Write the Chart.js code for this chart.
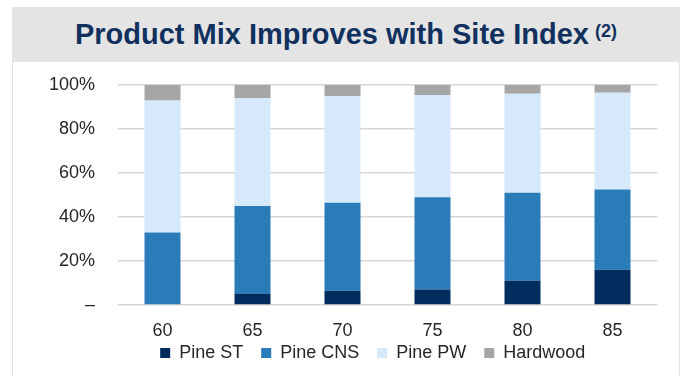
<!DOCTYPE html>
<html>
<head>
<meta charset="utf-8">
<script src="https://cdn.jsdelivr.net/npm/chart.js@4"></script>
<style>
  html, body { margin: 0; padding: 0; background: #fff; }
  #wrap { position: relative; width: 683px; height: 376px; overflow: hidden; font-family: "Liberation Sans", Arial, sans-serif; }
  #header {
    position: absolute; left: 12px; top: 7px; width: 668px; height: 55px;
    background: #e4e4e4; color: #12305e; font-weight: bold; font-size: 29px;
    text-align: center; line-height: 55px; white-space: nowrap;
  }
  #header sup { font-size: 18px; position: relative; top: 4px; vertical-align: top; line-height: 40px; margin-left: -2px; }
  #panel {
    position: absolute; left: 12px; top: 62px; width: 666px; height: 320px;
    border-left: 1px solid #e2e2e2; border-right: 1px solid #e2e2e2;
  }
  #chart { position: absolute; left: 0; top: 0; }
</style>
</head>
<body>
<div id="wrap">
  <div id="header">Product Mix Improves with Site Index <sup>(2)</sup></div>
  <div id="panel"></div>
  <canvas id="chart" width="683" height="376"></canvas>
</div>
<script>
const siteIndex = ['60', '65', '70', '75', '80', '85'];
const pineST = [0, 5, 6.5, 7, 11, 16];
const pineCNS = [33, 40, 40, 42, 40, 36.5];
const pinePW = [60, 49, 48.5, 46.5, 45, 44];
const hardwood = [7, 6, 5, 4.5, 4, 3.5];
const yTicks = [0, 20, 40, 60, 80, 100];

const tickFont = { family: 'Liberation Sans', size: 18 };

// legend sits right of the canvas centre and tucked up under the labels in the original
const legendShift = {
  id: 'legendShift',
  afterLayout(chart) {
    const lg = chart.legend;
    lg.left += 44;
    lg.right += 44;
    lg.top -= 17;
    lg.bottom -= 17;
  }
};

new Chart(document.getElementById('chart').getContext('2d'), {
  type: 'bar',
  data: {
    labels: siteIndex,
    datasets: [
      { label: 'Pine ST', data: pineST, backgroundColor: '#012d5e' },
      { label: 'Pine CNS', data: pineCNS, backgroundColor: '#2a7cb9' },
      { label: 'Pine PW', data: pinePW, backgroundColor: '#d5e9fb' },
      { label: 'Hardwood', data: hardwood, backgroundColor: '#a6a6a6' }
    ]
  },
  options: {
    responsive: false,
    animation: false,
    datasets: { bar: { categoryPercentage: 1, barPercentage: 0.4 } },
    layout: { padding: { top: 85, left: 0, right: 25.5, bottom: 0 } },
    scales: {
      x: {
        stacked: true,
        grid: { display: false },
        border: { display: false },
        ticks: { font: tickFont, color: '#262626', padding: 7 },
        afterFit: (s) => { s.height = 38; }
      },
      y: {
        stacked: true,
        min: 0,
        max: 100,
        afterBuildTicks: (s) => { s.ticks = yTicks.map(v => ({ value: v })); },
        grid: { color: '#d6d6d6', lineWidth: 1.5, drawTicks: false },
        border: { display: false },
        ticks: {
          font: tickFont,
          color: '#262626',
          padding: 22.5,
          callback: (v) => v === 0 ? '–' : v + '%'
        },
        afterFit: (s) => { s.width = 117.5; }
      }
    },
    plugins: {
      legend: {
        position: 'bottom',
        maxHeight: 33,
        labels: { font: tickFont, color: '#262626', boxWidth: 10, boxHeight: 10, padding: 18 }
      },
      tooltip: { enabled: false }
    }
  },
  plugins: [legendShift]
});
</script>
</body>
</html>
